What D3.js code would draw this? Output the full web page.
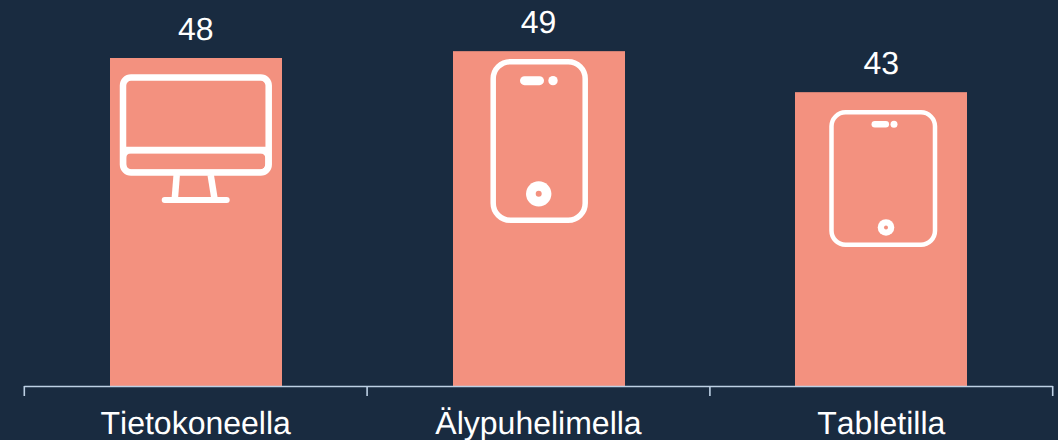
<!DOCTYPE html>
<html>
<head>
<meta charset="utf-8">
<script src="https://cdn.jsdelivr.net/npm/d3@7"></script>
<style>
    html, body { margin: 0; padding: 0; background: #192b40; }
    svg { display: block; font-family: "Liberation Sans", Arial, sans-serif; text-rendering: geometricPrecision; font-kerning: none; }
</style>
</head>
<body>
<svg width="1058" height="440"></svg>
<script>
const categories = ["Tietokoneella", "Älypuhelimella", "Tabletilla"];
const values = [48, 49, 43];
const icons = ["monitor", "phone", "tablet"];

const svg = d3.select("svg");
const barColor = "#f3917f", axisColor = "#bdd0e4";

const x = d3.scaleBand().domain(categories).range([24.3, 1052.7]);
const y = d3.scaleLinear().domain([0, 48]).range([386, 58]);
const barWidth = 172;

svg.selectAll("rect.bar")
    .data(values)
    .enter()
    .append("rect")
    .attr("class", "bar")
    .attr("x", (d, i) => Math.round(x(categories[i]) + (x.bandwidth() - barWidth) / 2))
    .attr("y", d => y(d))
    .attr("width", barWidth)
    .attr("height", d => y(0) - y(d))
    .attr("fill", barColor);

svg.selectAll("text.value")
    .data(values)
    .enter()
    .append("text")
    .attr("class", "value")
    .attr("x", (d, i) => x(categories[i]) + x.bandwidth() / 2)
    .attr("y", d => y(d) - 18)
    .attr("text-anchor", "middle")
    .attr("font-size", 32)
    .attr("fill", "#ffffff")
    .text(d => d);

// axis: ticks sit on the band edges, labels in the band centres
const axis = svg.append("g");
const edges = [...categories.map(c => x(c)), x.range()[1]];
axis.append("path")
    .attr("d", d3.line()(edges.map(e => [e, y(0) + 0.5])))
    .attr("stroke", axisColor)
    .attr("stroke-width", 1.6);
axis.selectAll("line")
    .data(edges)
    .enter()
    .append("line")
    .attr("x1", d => d)
    .attr("x2", d => d)
    .attr("y1", y(0))
    .attr("y2", y(0) + 10)
    .attr("stroke", axisColor)
    .attr("stroke-width", 1.6);
axis.selectAll("text")
    .data(categories)
    .enter()
    .append("text")
    .attr("x", d => x(d) + x.bandwidth() / 2)
    .attr("y", 434)
    .attr("text-anchor", "middle")
    .attr("font-size", 32)
    .attr("fill", "#ffffff")
    .text(d => d);

// icons are drawn relative to the top centre of their bar
function outline(g, rx, ry, w, h, r, sw) {
    g.append("rect")
        .attr("x", rx).attr("y", ry).attr("width", w).attr("height", h).attr("rx", r)
        .attr("fill", "none").attr("stroke", "#fff").attr("stroke-width", sw);
}
function stroke(g, x1, y1, x2, y2, sw, cap) {
    g.append("line")
        .attr("x1", x1).attr("y1", y1).attr("x2", x2).attr("y2", y2)
        .attr("stroke", "#fff").attr("stroke-width", sw).attr("stroke-linecap", cap || "round");
}
function handset(g, o) {
    outline(g, o.x, o.y, o.w, o.h, o.r, o.sw);
    stroke(g, o.pill[0], o.pill[2], o.pill[1], o.pill[2], o.pillH);
    g.append("circle").attr("cx", o.dot[0]).attr("cy", o.pill[2]).attr("r", o.dot[1]).attr("fill", "#fff");
    g.append("circle").attr("cx", o.home[0]).attr("cy", o.home[1]).attr("r", o.home[2]).attr("fill", "#fff");
    g.append("circle").attr("cx", o.home[0]).attr("cy", o.home[1]).attr("r", o.home[3]).attr("fill", barColor);
}
const drawIcon = {
    monitor(g) {
        outline(g, -72.7, 19.5, 145.7, 95, 8, 6.5);
        stroke(g, -72.7, 92, 73, 92, 6.5, "butt");
        // lower panel has its own rounded inner corners
        g.append("path")
            .attr("fill", "#fff")
            .attr("fill-rule", "evenodd")
            .attr("d", "M-72,95V112H72V95Z M-65,95.5H64.5Q69.5,95.5 69.5,100V106Q69.5,111.5 64.5,111.5H-65Q-69.5,111.5 -69.5,106V100Q-69.5,95.5 -65,95.5Z");
        stroke(g, -19, 117, -21, 142, 6.5, "butt");
        stroke(g, 15, 117, 19, 142, 6.5, "butt");
        stroke(g, -31, 142, 31, 142, 6);
    },
    phone(g) {
        handset(g, { x: -45.3, y: 10.5, w: 92, h: 158.5, r: 17, sw: 5.5,
            pill: [-14, 1, 29.5], pillH: 9, dot: [14.5, 4.7], home: [0.2, 142.7, 12.7, 3] });
    },
    tablet(g) {
        handset(g, { x: -49.8, y: 20.2, w: 103.5, h: 132.3, r: 14, sw: 4.5,
            pill: [-6.5, 4.5, 32], pillH: 6.5, dot: [12.7, 3.5], home: [4.7, 135.3, 8.3, 2] });
    }
};
icons.forEach((name, i) => {
    const g = svg.append("g")
        .attr("transform", `translate(${x(categories[i]) + x.bandwidth() / 2},${y(values[i])})`);
    drawIcon[name](g);
});
</script>
</body>
</html>
